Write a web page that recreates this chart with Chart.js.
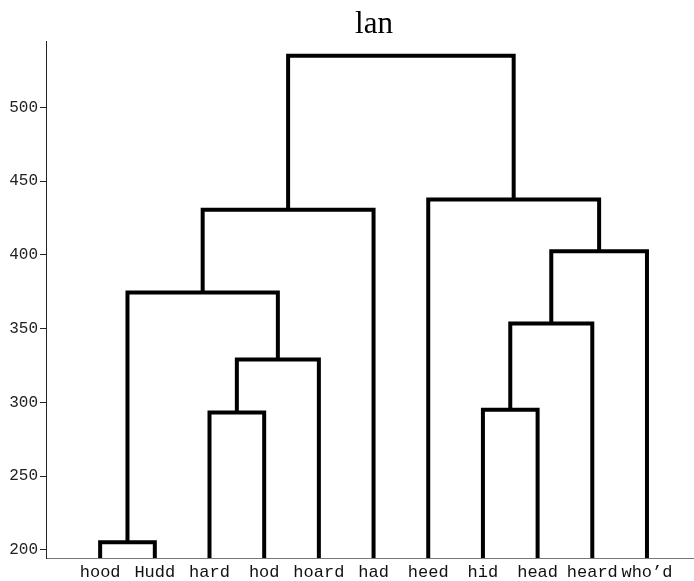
<!DOCTYPE html>
<html>
<head>
<meta charset="utf-8">
<script src="https://cdn.jsdelivr.net/npm/chart.js@4/dist/chart.umd.min.js"></script>
<style>body{margin:0;background:#fff}</style>
</head>
<body>
<canvas id="myChart" width="694" height="581"></canvas>
<script>
// leaves in dendrogram order
var leaves = ["hood", "Hudd", "hard", "hod", "hoard", "had", "heed", "hid", "head", "heard", "who\u2019d"];

// linkage: node 11+k joins mergeLeft[k] and mergeRight[k] at mergeHeight[k]
var mergeLeft = [0, 2, 7, 12, 13, 11, 15, 16, 6, 18];
var mergeRight = [1, 3, 8, 4, 9, 14, 10, 5, 17, 19];
var mergeHeight = [205, 293, 295, 329, 353.5, 374.5, 402.5, 430.5, 437.5, 535];

var yTicks = [200, 250, 300, 350, 400, 450, 500];
var yMin = 194.4, yMax = 545;
var titleText = "lan";

var pos = [];
var hgt = [];
for (var i = 0; i < leaves.length; i++) {
  pos.push(i);
  hgt.push(yMin);
}

var datasets = [];
for (var k = 0; k < mergeHeight.length; k++) {
  var a = mergeLeft[k], b = mergeRight[k], h = mergeHeight[k];
  datasets.push({
    data: [
      {x: pos[a], y: hgt[a]},
      {x: pos[a], y: h},
      {x: pos[b], y: h},
      {x: pos[b], y: hgt[b]}
    ],
    showLine: true,
    borderColor: "#000",
    borderWidth: 4,
    borderJoinStyle: "miter",
    borderCapStyle: "butt",
    pointRadius: 0,
    fill: false
  });
  pos.push((pos[a] + pos[b]) / 2);
  hgt.push(h);
}

// the original axes run a bit past the right edge, so the title sits right of the visible centre
var titlePlugin = {
  id: "figTitle",
  afterDraw: function (chart) {
    var c = chart.ctx;
    c.save();
    c.font = "31px 'Liberation Serif'";
    c.fillStyle = "#000";
    c.textAlign = "center";
    c.textBaseline = "alphabetic";
    c.fillText(titleText, (chart.chartArea.left + chart.chartArea.right) / 2 + 4, 33);
    c.restore();
  }
};

var ctx = document.getElementById("myChart").getContext("2d");
var chart = new Chart(ctx, {
  type: "scatter",
  data: {datasets: datasets},
  plugins: [titlePlugin],
  options: {
    responsive: false,
    animation: false,
    layout: {padding: {left: 0, right: 0, top: 41, bottom: 0}},
    plugins: {
      legend: {display: false},
      tooltip: {enabled: false},
      title: {display: false}
    },
    scales: {
      x: {
        type: "linear",
        min: -0.99,
        max: 10.86,
        afterBuildTicks: function (scale) {
          scale.ticks = leaves.map(function (l, i) { return {value: i}; });
        },
        afterFit: function (scale) { scale.height = 23; },
        grid: {display: false, drawTicks: false},
        border: {display: true, color: "#777", width: 1},
        ticks: {
          autoSkip: false,
          maxRotation: 0,
          minRotation: 0,
          padding: 4,
          color: "#111",
          font: {family: "Liberation Mono", size: 17},
          callback: function (v) { return leaves[v]; }
        }
      },
      y: {
        min: yMin,
        max: yMax,
        afterBuildTicks: function (scale) {
          scale.ticks = yTicks.map(function (t) { return {value: t}; });
        },
        afterFit: function (scale) { scale.width = 46; },
        grid: {display: true, drawOnChartArea: false, drawTicks: true, tickLength: 6, color: "#222"},
        border: {display: true, color: "#222", width: 1},
        ticks: {
          padding: 2,
          color: "#222",
          font: {family: "Liberation Mono", size: 16}
        }
      }
    }
  }
});
</script>
</body>
</html>
